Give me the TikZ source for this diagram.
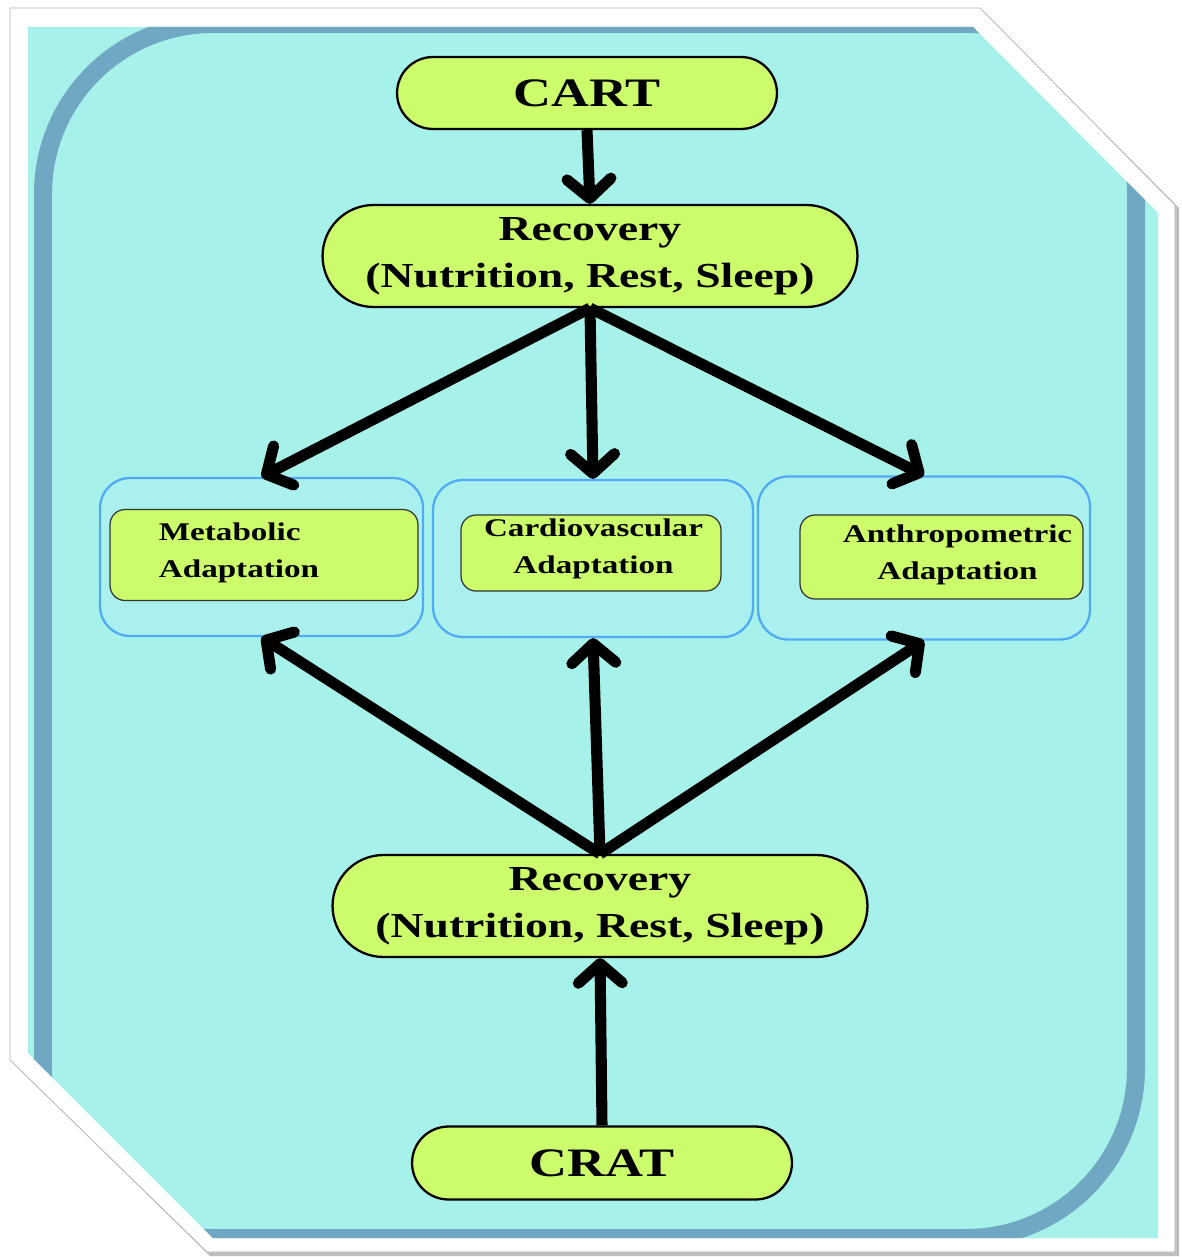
\documentclass[tikz,border=0pt]{standalone}
\usepackage{fontspec}
\newfontfamily\diagfont{Liberation Serif}[FakeStretch=1.3]
\usetikzlibrary{arrows.meta, positioning, shapes.misc}
\definecolor{framecyan}{RGB}{166,242,234}
\definecolor{bandblue}{RGB}{112,168,196}
\definecolor{nodegreen}{RGB}{204,252,108}
\definecolor{glowblue}{RGB}{80,170,245}
\definecolor{panelcyan}{RGB}{170,240,238}

\tikzset{
  pill/.style={rounded rectangle, draw=black, line width=1.3pt, fill=nodegreen,
               inner sep=0pt, align=center},
  panel/.style={draw=glowblue, line width=1.3pt, fill=panelcyan, rounded corners=0.6cm},
  adaptbox/.style={draw=black!80, line width=0.7pt, fill=nodegreen, rounded corners=0.3cm},
  adapttext/.style={font=\diagfont\bfseries\fontsize{14.5}{21}\selectfont, inner sep=0pt},
  flow/.style={line width=6.3pt, -{Straight Barb[length=11pt, width=25pt, round]}}
}

\begin{document}
\begin{tikzpicture}[x=0.02cm, y=-0.02cm]
  \useasboundingbox (0,0) rectangle (1181,1257);
  % frame with cut corners
  \fill[black!25] (13,11) -- (983,11) -- (1179,208) -- (1179,1256) -- (210,1256) -- (13,1063) -- cycle;
  \filldraw[fill=white, draw=black!30] (10,8) -- (980,8) -- (1175,205) -- (1175,1252)
    -- (207,1252) -- (10,1060) -- cycle;
  \fill[framecyan] (28,27) -- (973,27) -- (1158,213) -- (1158,1238) -- (213,1238) -- (28,1053) -- cycle;
  \begin{scope}
    \clip (28,27) -- (973,27) -- (1158,213) -- (1158,1238) -- (213,1238) -- (28,1053) -- cycle;
    \draw[bandblue, line width=0.36cm, rounded corners=3.4cm] (43,24) rectangle (1136,1238);
  \end{scope}

  % main flow
  \node[pill, minimum width=7.6cm, minimum height=1.44cm,
        font=\diagfont\bfseries\fontsize{23}{27}\selectfont] (cart) at (587,93) {CART};
  \node[pill, minimum width=10.7cm, minimum height=2.04cm,
        font=\diagfont\bfseries\fontsize{20}{27}\selectfont] (rectop) at (590,256)
        {Recovery\\(Nutrition, Rest, Sleep)};
  \node[pill, minimum width=10.7cm, minimum height=2.04cm,
        font=\diagfont\bfseries\fontsize{20}{27}\selectfont] (recbot) at (600,906)
        {Recovery\\(Nutrition, Rest, Sleep)};
  \node[pill, minimum width=7.6cm, minimum height=1.46cm,
        font=\diagfont\bfseries\fontsize{23}{27}\selectfont] (crat) at (602,1163) {CRAT};

  % adaptation panels
  \node[panel, minimum width=6.46cm, minimum height=3.16cm] (metapanel) at (261.5,557) {};
  \node[panel, minimum width=6.4cm, minimum height=3.14cm] (cardiopanel) at (593,558.5) {};
  \node[panel, minimum width=6.64cm, minimum height=3.26cm] (anthropanel) at (924,558) {};
  \node[adaptbox, minimum width=6.16cm, minimum height=1.82cm] (metabox) at (264,555) {};
  \node[adaptbox, minimum width=5.2cm, minimum height=1.52cm] (cardiobox) at (591,553) {};
  \node[adaptbox, minimum width=5.66cm, minimum height=1.68cm] (anthrobox) at (941.5,557) {};
  \node[adapttext, align=left] (metatext) at (239,553) {Metabolic\\Adaptation};
  \node[adapttext, align=center] (cardiotext) at (593.5,548.5) {Cardiovascular\\Adaptation};
  \node[adapttext, align=center] (anthrotext) at (957.5,555) {Anthropometric\\Adaptation};

  % arrows
  \draw[flow] (cart.south) -- (rectop.north);
  \draw[flow] (rectop.south) -- (metapanel.north);
  \draw[flow] (rectop.south) -- (cardiopanel.north);
  \draw[flow] (rectop.south) -- (anthropanel.north);
  \draw[flow] (recbot.north) -- (metapanel.south);
  \draw[flow] (recbot.north) -- (cardiopanel.south);
  \draw[flow] (recbot.north) -- (anthropanel.south);
  \draw[flow] (crat.north) -- (recbot.south);
\end{tikzpicture}
\end{document}
